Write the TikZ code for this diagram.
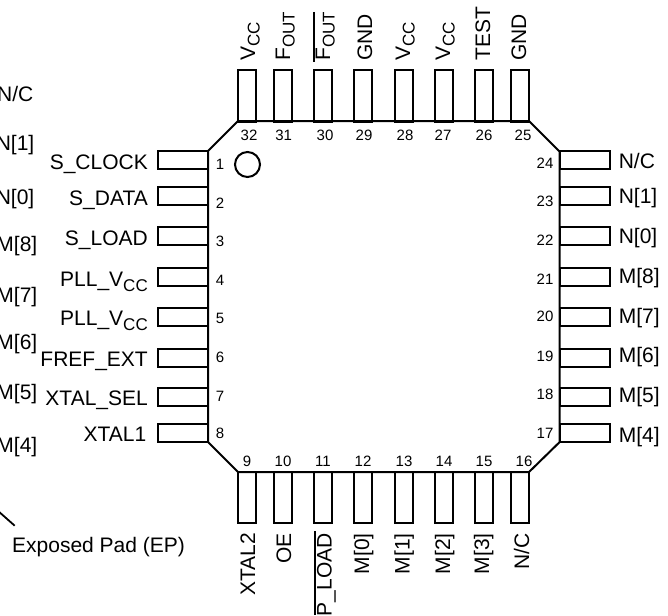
\documentclass[tikz,border=0pt]{standalone}
\usepackage{fontspec}
\setmainfont{Liberation Sans}
\newcommand{\subt}[1]{{\fontsize{17}{17}\selectfont\raisebox{-4.5pt}{#1}}}
\tikzset{
  x=1pt,y=-1pt,
  pkgline/.style={line width=2pt,line join=miter,black},
  pinh/.style={draw,line width=2pt,fill=white,inner sep=0pt,minimum width=50pt,minimum height=18pt},
  pinv/.style={draw,line width=2pt,fill=white,inner sep=0pt,minimum width=18pt,minimum height=51pt},
  lab/.style={inner sep=0pt,font=\fontsize{21}{24}\selectfont},
  numb/.style={inner sep=0pt,font=\fontsize{15}{16}\selectfont},
  leftlab/.style={lab,anchor=base east},
  rightlab/.style={lab,anchor=base west},
  toplab/.style={lab,rotate=90,anchor=base west},
  botlab/.style={lab,rotate=90,anchor=base east},
  barline/.style={line width=1.8pt},
}
\begin{document}
\begin{tikzpicture}
\useasboundingbox (0,0) rectangle (668,615);
% pins
\foreach \n/\y in {1/160,2/196,3/236,4/277,5/317,6/358,7/397,8/433}
  \node[pinh] (p\n) at (183,\y) {};
\foreach \n/\y in {24/160,23/196,22/236,21/277,20/317,19/358,18/397,17/433}
  \node[pinh] (p\n) at (584.5,\y) {};
\foreach \n/\x in {32/247,31/283,30/323,29/363,28/404,27/444,26/484,25/520}
  \node[pinv] (p\n) at (\x,96) {};
\foreach \n/\x in {9/247,10/283,11/323,12/363,13/404,14/444,15/484,16/520}
  \node[pinv] (p\n) at (\x,497.5) {};
% body
\draw[pkgline] (208,151) -- (238,121) -- (529,121) -- (559.7,151.7) -- (559.7,442) -- (529,472) -- (238,472) -- (208,442) -- cycle;
\node[draw,circle,line width=2pt,minimum size=25pt,inner sep=0pt] (dot) at (247.5,164.5) {};
% left labels
\node[leftlab] (l1) at (148,169) {S\_CLOCK};
\node[leftlab] (l2) at (148,205) {S\_DATA};
\node[leftlab] (l3) at (148,245) {S\_LOAD};
\node[leftlab] (l4) at (148,286.7) {PLL\_V\subt{CC}};
\node[leftlab] (l5) at (148,325.7) {PLL\_V\subt{CC}};
\node[leftlab] (l6) at (148,366) {FREF\_EXT};
\node[leftlab] (l7) at (148,405) {XTAL\_SEL};
\node[leftlab] (l8) at (146.5,441) {XTAL1};
% right labels
\foreach \n/\t/\y in {24/N\slash C/168,23/N[1]/203,22/N[0]/243,21/M[8]/283,20/M[7]/323,19/M[6]/362.7,18/M[5]/402.7,17/M[4]/442}
  \node[rightlab] (r\n) at (618.6,\y) {\t};
% labels cut by the left edge
\foreach \n/\t/\x/\y in {a/N\slash C/33.5/101.7,b/N[1]/34.5/150,c/N[0]/34.5/204,d/M[8]/37.5/251.7,e/M[7]/37.5/302,f/M[6]/37.5/349,g/M[5]/37.5/399,h/M[4]/37.5/452}
  \node[leftlab] (c\n) at (\x,\y) {\t};
% top labels
\node[toplab] (t32) at (255,61) {V\subt{CC}};
\node[toplab] (t31) at (290,61) {F\subt{OUT}};
\node[toplab] (t30) at (330,61) {F\subt{OUT}};
\node[toplab] (t29) at (372,61) {GND};
\node[toplab] (t28) at (410,61) {V\subt{CC}};
\node[toplab] (t27) at (450,61) {V\subt{CC}};
\node[toplab] (t26) at (490,61) {TEST};
\node[toplab] (t25) at (526,61) {GND};
\coordinate (o30a) at (314,12);
\coordinate (o30b) at (314,62);
\draw[barline] (o30a) -- (o30b);
% bottom labels
\node[botlab] (b9) at (255,533) {XTAL2};
\node[botlab] (b10) at (291,533) {OE};
\node[botlab] (b11) at (331.7,533) {P\_LOAD};
\node[botlab] (b12) at (369,533) {M[0]};
\node[botlab] (b13) at (409.5,533) {M[1]};
\node[botlab] (b14) at (450,533) {M[2]};
\node[botlab] (b15) at (489,533) {M[3]};
\node[botlab] (b16) at (529,533) {N/C};
\coordinate (o11a) at (315,531);
\coordinate (o11b) at (315,615);
\draw[barline] (o11a) -- (o11b);
% pin numbers
\foreach \n/\x/\y in {32/249/135,31/283.7/135,30/325/135,29/364/135,28/405/135,27/443/135,26/484/135,25/523/135,
  9/247/461,10/283/461,11/323/461,12/363/461,13/404/461,14/444/461,15/484/461,16/524/461,
  1/220/164,2/220/203,3/220/241,4/220/280,5/220/318,6/220/357,7/220/396,8/220/433,
  24/545/163,23/545/201,22/545/240,21/545/279,20/545/316,19/545/356,18/545/394,17/545/433}
  \node[numb] (n\n) at (\x,\y) {\n};
% exposed pad
\coordinate (epa) at (-1,511.8);
\coordinate (epb) at (14.7,525.7);
\draw[barline] (epa) -- (epb);
\node[lab,anchor=base west] (ep) at (12,552) {Exposed Pad (EP)};
\end{tikzpicture}
\end{document}
